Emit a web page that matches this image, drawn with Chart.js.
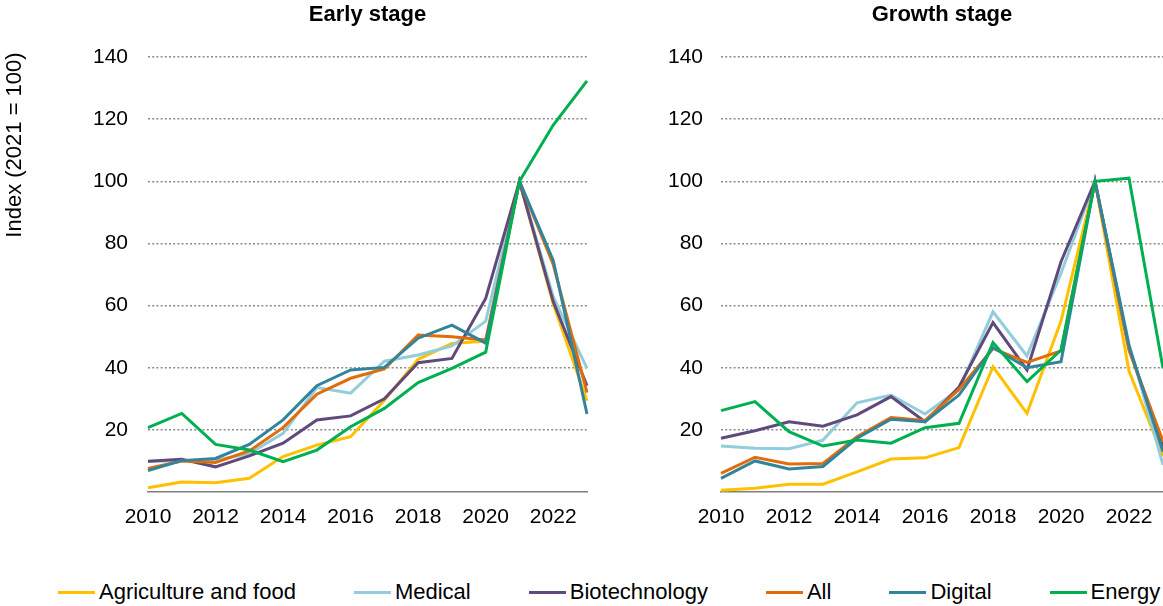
<!DOCTYPE html>
<html>
<head>
<meta charset="utf-8">
<script src="https://cdn.jsdelivr.net/npm/chart.js@4/dist/chart.umd.min.js"></script>
<style>
  body { margin: 0; background: #fff; font-family: "Liberation Sans", Arial, sans-serif; }
  #wrap { position: relative; width: 1163px; height: 606px; overflow: hidden; }
  #early { position: absolute; left: 0; top: 0; }
  #growth { position: absolute; left: 590px; top: 0; }
  #legend { position: absolute; left: 58px; top: 580px; height: 24px; display: flex; align-items: center; gap: 58px; white-space: nowrap; }
  .item { display: flex; align-items: center; font-size: 22px; color: #000; }
  .swatch { width: 37px; height: 3px; margin-right: 4px; }
</style>
</head>
<body>
<div id="wrap">
  <canvas id="early" width="600" height="540"></canvas>
  <canvas id="growth" width="586" height="540"></canvas>
  <div id="legend"></div>
</div>
<script>
var years = ['2010', '2011', '2012', '2013', '2014', '2015', '2016', '2017', '2018', '2019', '2020', '2021', '2022', '2023'];
var seriesNames = ['Agriculture and food', 'Medical', 'Biotechnology', 'All', 'Digital', 'Energy'];
var colors = ['#FFC000', '#92CDDC', '#604A7B', '#E36C09', '#31849B', '#00B050'];

// early stage, index 2021 = 100
var earlyAgri    = [1.4, 3.2, 3.0, 4.4, 11.4, 15.1, 17.8, 29.5, 42.7, 47.8, 48.6, 100, 60.5, 29.4];
var earlyMedical = [9.8, 10.1, 10.2, 12.4, 18.9, 33.6, 31.8, 42.1, 44.1, 47.0, 55.0, 100, 62.9, 39.8];
var earlyBiotech = [9.9, 10.5, 8.1, 11.6, 15.7, 23.2, 24.5, 30.0, 41.6, 43.0, 62.3, 100, 61.3, 34.2];
var earlyAll     = [7.6, 10.0, 9.5, 13.2, 20.7, 31.5, 36.6, 39.6, 50.5, 50.0, 48.9, 100, 73.2, 32.0];
var earlyDigital = [6.9, 10.1, 10.8, 15.3, 23.2, 34.2, 39.3, 40.1, 49.5, 53.7, 47.9, 100, 74.5, 25.1];
var earlyEnergy  = [20.7, 25.3, 15.3, 13.5, 9.8, 13.5, 21.0, 26.9, 35.2, 39.8, 45.0, 100, 118.1, 132.3];

// growth stage, index 2021 = 100
var growthAgri    = [0.6, 1.2, 2.5, 2.5, 6.5, 10.6, 11.0, 14.3, 40.3, 25.3, 55.0, 100, 38.9, 11.5];
var growthMedical = [14.8, 14.1, 13.9, 16.7, 28.7, 31.2, 25.1, 33.0, 58.0, 43.8, 70.4, 100, 47.7, 8.7];
var growthBiotech = [17.3, 19.7, 22.6, 21.2, 24.8, 30.7, 22.6, 33.8, 54.5, 39.3, 74.1, 100, 46.2, 14.5];
var growthAll     = [6.0, 11.2, 9.0, 9.2, 17.8, 24.0, 23.0, 33.0, 46.2, 41.7, 45.4, 100, 45.6, 16.3];
var growthDigital = [4.4, 10.0, 7.4, 8.2, 17.3, 23.4, 22.6, 31.2, 46.5, 40.0, 41.9, 100, 47.0, 13.0];
var growthEnergy  = [26.2, 29.1, 19.4, 14.8, 16.7, 15.7, 20.7, 22.1, 48.1, 35.5, 45.7, 100, 101.0, 39.8];

var yTicks = [20, 40, 60, 80, 100, 120, 140];

var FONT = '"Liberation Sans", Arial, sans-serif';
Chart.defaults.font.family = FONT;
Chart.defaults.color = '#000';

function makeSets(list) {
  return list.map(function (vals, i) {
    return {
      label: seriesNames[i],
      data: vals,
      borderColor: colors[i],
      backgroundColor: colors[i],
      borderWidth: 3,
      pointRadius: 0,
      tension: 0,
      order: 5 - i
    };
  });
}

var yTitle = {
  id: 'yTitle',
  afterDraw: function (chart) {
    var c = chart.ctx;
    c.save();
    c.translate(15, 145);
    c.rotate(-Math.PI / 2);
    c.font = '22px ' + FONT;
    c.fillStyle = '#000';
    c.textAlign = 'center';
    c.textBaseline = 'middle';
    c.fillText('Index (2021 = 100)', 0, 0);
    c.restore();
  }
};

function makeChart(id, title, sets, axisWidth, tickPad, plugins) {
  return new Chart(document.getElementById(id), {
    type: 'line',
    data: { labels: years, datasets: makeSets(sets) },
    plugins: plugins,
    options: {
      responsive: false,
      animation: false,
      plugins: {
        legend: { display: false },
        tooltip: { enabled: false },
        title: {
          display: true,
          text: title,
          fullSize: false,
          font: { size: 22, weight: 'bold' },
          color: '#000',
          padding: { top: 2, bottom: 28.6 }
        }
      },
      scales: {
        x: {
          grid: { display: false, drawTicks: false },
          border: { display: true, color: '#7f7f7f', width: 1.5 },
          ticks: {
            autoSkip: false,
            maxRotation: 0,
            padding: 13,
            font: { size: 21 },
            color: '#000',
            callback: function (v, i) { return i % 2 === 0 ? years[i] : ''; }
          },
          afterFit: function (s) { s.height = 48; }
        },
        y: {
          min: 0,
          max: 140,
          afterBuildTicks: function (s) { s.ticks = yTicks.map(function (v) { return { value: v }; }); },
          grid: { color: '#8a8a8a', lineWidth: 1.5, drawTicks: false },
          border: { display: false, dash: [2, 2.2] },
          ticks: { padding: tickPad, font: { size: 21 }, color: '#000' },
          afterFit: function (s) { s.width = axisWidth; }
        }
      }
    }
  });
}

makeChart('early', 'Early stage',
  [earlyAgri, earlyMedical, earlyBiotech, earlyAll, earlyDigital, earlyEnergy], 148, 20, [yTitle]);
makeChart('growth', 'Growth stage',
  [growthAgri, growthMedical, growthBiotech, growthAll, growthDigital, growthEnergy], 131, 18, []);

var legend = document.getElementById('legend');
seriesNames.forEach(function (name, i) {
  var item = document.createElement('div');
  item.className = 'item';
  var sw = document.createElement('span');
  sw.className = 'swatch';
  sw.style.background = colors[i];
  var tx = document.createElement('span');
  tx.textContent = name;
  item.appendChild(sw);
  item.appendChild(tx);
  legend.appendChild(item);
});
</script>
</body>
</html>
